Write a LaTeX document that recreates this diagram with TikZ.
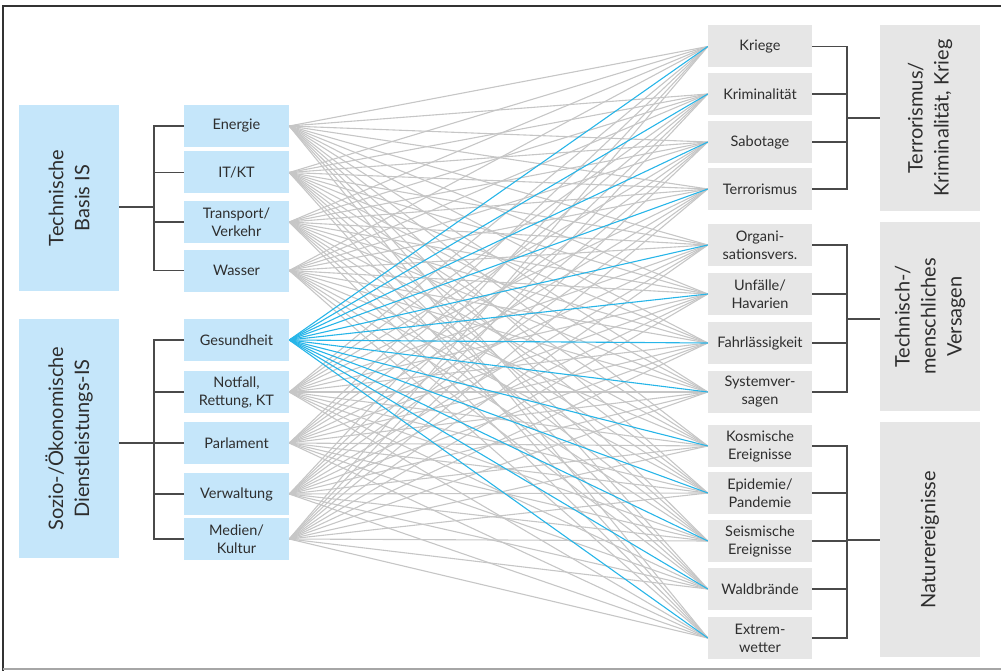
\documentclass[tikz,border=0pt]{standalone}
\usepackage{fontspec}
\setmainfont{Lato}
\usetikzlibrary{backgrounds}
\definecolor{bluebox}{HTML}{C5E6FA}
\definecolor{graybox}{HTML}{E6E6E6}
\definecolor{txt}{HTML}{2E2E2E}
\definecolor{linegray}{HTML}{C6C6C6}
\definecolor{lineblue}{HTML}{27B5E8}
\definecolor{brk}{HTML}{4A4A4A}
\begin{document}
\begin{tikzpicture}[x=1pt,y=-1pt,
  small/.style={inner sep=0pt,minimum width=105pt,minimum height=42pt,align=center,text=txt,font=\fontsize{14.5}{18}\selectfont},
  lb/.style={small,fill=bluebox},
  rb/.style={small,fill=graybox,minimum width=104pt},
  bigbox/.style={inner sep=0pt,minimum width=100pt},
  bigtext/.style={rotate=90,align=center,text=txt,font=\fontsize{20}{26}\selectfont},
  con/.style={linegray,line width=1.1pt},
  conb/.style={lineblue,line width=1.1pt},
  brkline/.style={brk,line width=1.3pt}]
\useasboundingbox (0,0) rectangle (1001,671);
\draw[line width=1.5pt,black!80] (3,671) -- (3,6) -- (1001,6);
\draw[line width=1.5pt,black!35] (3,669) -- (1001,669);

% left middle boxes
\node[lb] (E) at (236.5,126) {Energie};
\node[lb] (IT) at (236.5,172.5) {IT/KT};
\node[lb] (TV) at (236.5,222) {Transport/\\Verkehr};
\node[lb] (W) at (236.5,270.5) {Wasser};
\node[lb] (G) at (236.5,340) {Gesundheit};
\node[lb] (N) at (236.5,392) {Notfall,\\Rettung, KT};
\node[lb] (P) at (236.5,443) {Parlament};
\node[lb] (V) at (236.5,494) {Verwaltung};
\node[lb] (M) at (236.5,539) {Medien/\\Kultur};

% right boxes
\node[rb] (R1) at (760,46.5) {Kriege};
\node[rb] (R2) at (760,94) {Kriminalität};
\node[rb] (R3) at (760,142) {Sabotage};
\node[rb] (R4) at (760,189) {Terrorismus};
\node[rb] (R5) at (760,245) {Organi-\\sationsvers.};
\node[rb] (R6) at (760,294) {Unfälle/\\Havarien};
\node[rb] (R7) at (760,343) {Fahrlässigkeit};
\node[rb] (R8) at (760,392) {Systemver-\\sagen};
\node[rb] (R9) at (760,446) {Kosmische\\Ereignisse};
\node[rb] (R10) at (760,493) {Epidemie/\\Pandemie};
\node[rb] (R11) at (760,541) {Seismische\\Ereignisse};
\node[rb] (R12) at (760,589) {Waldbrände};
\node[rb] (R13) at (760,638) {Extrem-\\wetter};

% connectors
\begin{scope}[on background layer]
\foreach \a in {E,IT,TV,W,N,P,V,M}{
  \foreach \b in {R1,R2,R3,R4,R5,R6,R7,R8,R9,R10,R11,R12,R13}{
    \draw[con] (\a.east) -- (\b.west);
  }
}
\foreach \b in {R1,R2,R3,R4,R5,R6,R7,R8,R9,R10,R11,R12,R13}{
  \draw[conb] (G.east) -- (\b.west);
}
\end{scope}

% big boxes
\node[bigbox,fill=bluebox,minimum height=186pt] (TB) at (69,198) {};
\node[bigtext] at (TB) {Technische\\Basis IS};
\node[bigbox,fill=bluebox,minimum height=239pt] (SB) at (69,438.5) {};
\node[bigtext] at (SB) {Sozio-/Ökonomische\\Dienstleistungs-IS};
\node[bigbox,fill=graybox,minimum height=186pt] (TK) at (930,118) {};
\node[bigtext] at (TK) {Terrorismus/\\Kriminalität, Krieg};
\node[bigbox,fill=graybox,minimum height=189pt] (TM) at (930,316.5) {};
\node[bigtext] at (TM) {Technisch-/\\menschliches\\Versagen};
\node[bigbox,fill=graybox,minimum height=235pt] (NE) at (930,539.5) {};
\node[bigtext] at (NE) {Naturereignisse};

% brackets
\coordinate (b1) at (154,207);
\coordinate (b2) at (154,443);
\coordinate (b3) at (847,118);
\coordinate (b4) at (847,319);
\coordinate (b5) at (847,540);
\draw[brkline] (TB.east |- b1) -- (b1);
\draw[brkline] (E.west) -| (b1) |- (W.west);
\draw[brkline] (IT.west) -- (IT.west -| b1);
\draw[brkline] (TV.west) -- (TV.west -| b1);
\draw[brkline] (SB.east |- b2) -- (b2);
\draw[brkline] (G.west) -| (b2) |- (M.west);
\draw[brkline] (N.west) -- (N.west -| b2);
\draw[brkline] (P.west) -- (P.west -| b2);
\draw[brkline] (V.west) -- (V.west -| b2);
\draw[brkline] (TK.west |- b3) -- (b3);
\draw[brkline] (R1.east) -| (b3) |- (R4.east);
\draw[brkline] (R2.east) -- (R2.east -| b3);
\draw[brkline] (R3.east) -- (R3.east -| b3);
\draw[brkline] (TM.west |- b4) -- (b4);
\draw[brkline] (R5.east) -| (b4) |- (R8.east);
\draw[brkline] (R6.east) -- (R6.east -| b4);
\draw[brkline] (R7.east) -- (R7.east -| b4);
\draw[brkline] (NE.west |- b5) -- (b5);
\draw[brkline] (R9.east) -| (b5) |- (R13.east);
\draw[brkline] (R10.east) -- (R10.east -| b5);
\draw[brkline] (R11.east) -- (R11.east -| b5);
\draw[brkline] (R12.east) -- (R12.east -| b5);
\end{tikzpicture}
\end{document}
